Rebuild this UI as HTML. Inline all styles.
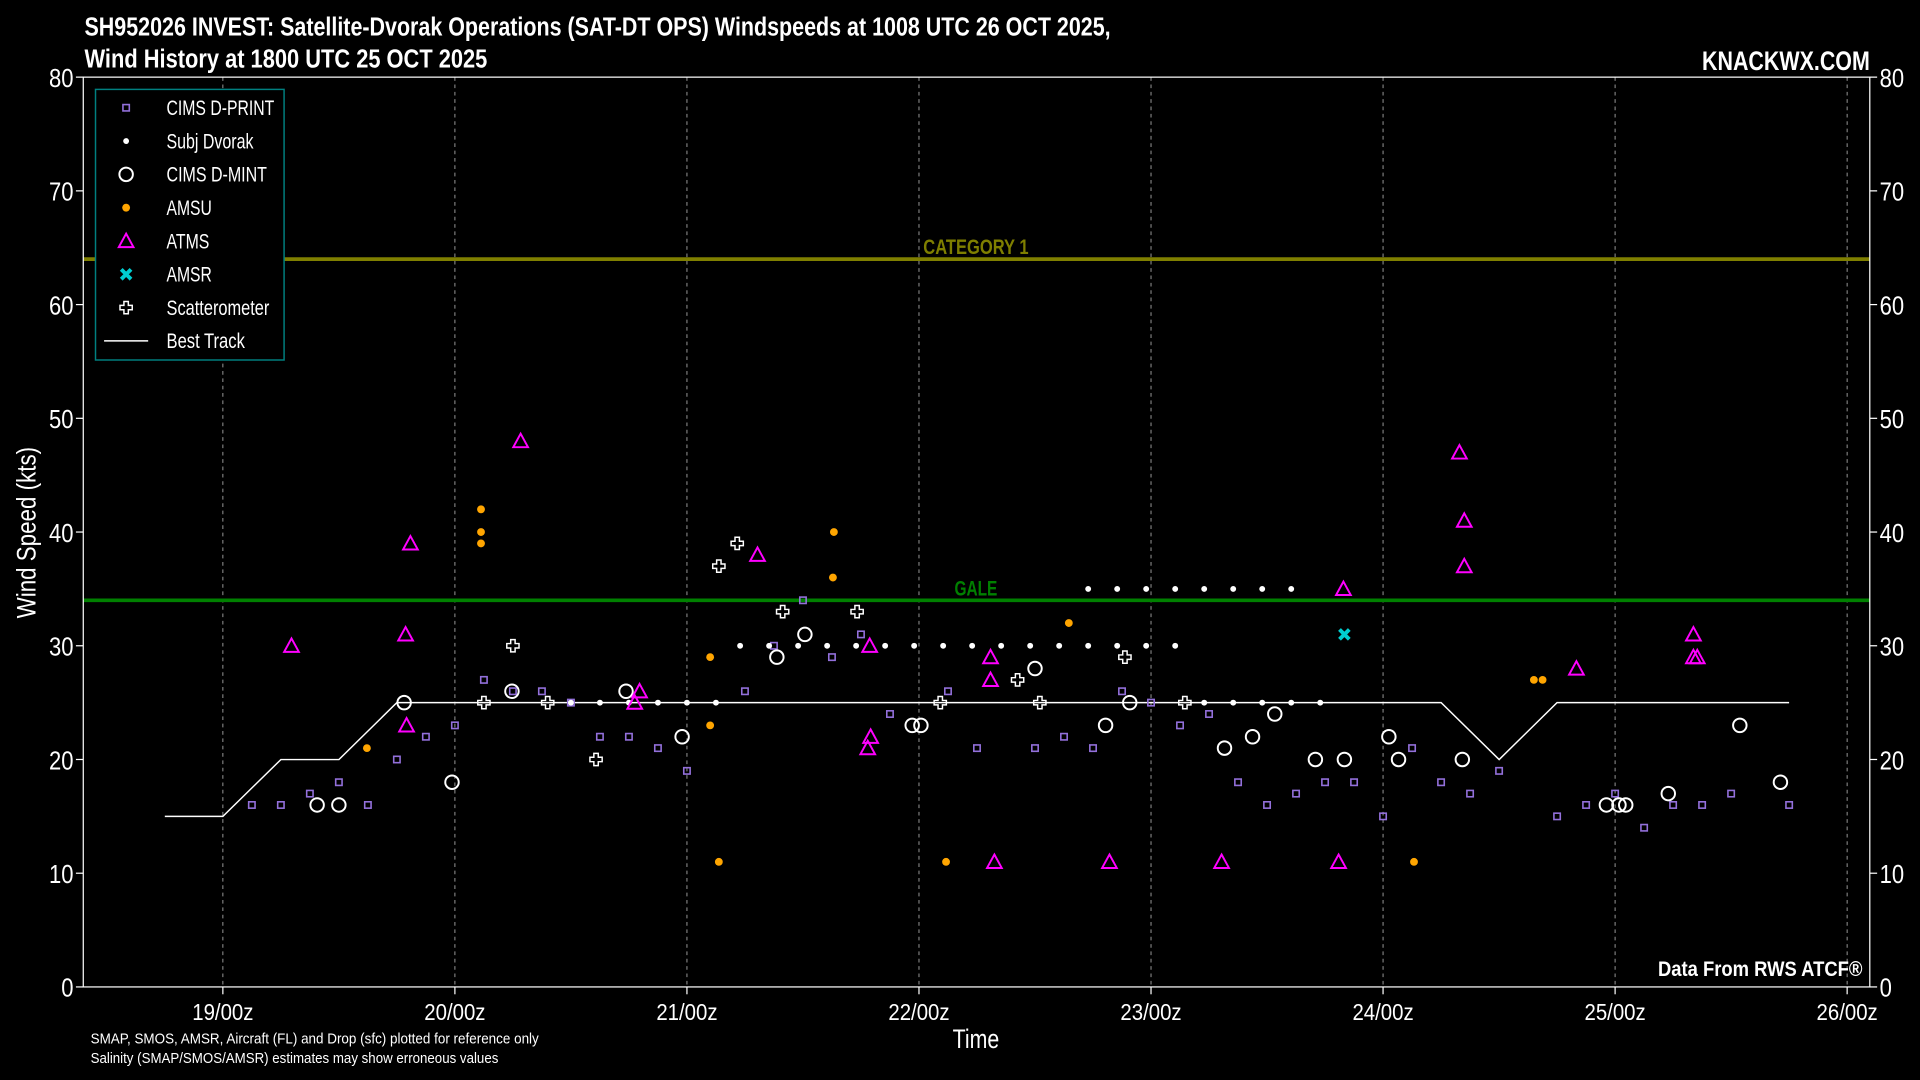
<!DOCTYPE html>
<html><head><meta charset="utf-8">
<style>
html,body{margin:0;padding:0;background:#000;overflow:hidden}
svg{display:block}
text{font-family:"Liberation Sans Narrow","Liberation Sans",sans-serif;fill:#fff}
</style></head>
<body>
<svg id="chart" width="1920" height="1080" viewBox="0 0 1568 882" xmlns="http://www.w3.org/2000/svg">
<rect x="0" y="0" width="1568" height="882" fill="#000"/>
<text x="69" y="29" font-size="21" font-weight="bold" textLength="838" lengthAdjust="spacingAndGlyphs">SH952026 INVEST: Satellite-Dvorak Operations (SAT-DT OPS) Windspeeds at 1008 UTC 26 OCT 2025,</text>
<text x="69" y="55" font-size="21" font-weight="bold" textLength="329" lengthAdjust="spacingAndGlyphs">Wind History at 1800 UTC 25 OCT 2025</text>
<text x="1390" y="57" font-size="22" font-weight="bold" textLength="137" lengthAdjust="spacingAndGlyphs">KNACKWX.COM</text>
<g id="grid"></g>
<g id="refs"></g>
<g id="marks"></g>
<rect x="68" y="63" width="1459" height="743" fill="none" stroke="#fff" stroke-width="1"/>
<g id="axes"></g>
<text transform="translate(29,435) rotate(-90)" font-size="22" text-anchor="middle" textLength="140" lengthAdjust="spacingAndGlyphs">Wind Speed (kts)</text>
<text x="797" y="856" font-size="22" text-anchor="middle" textLength="38" lengthAdjust="spacingAndGlyphs">Time</text>
<text x="1354" y="797" font-size="17" font-weight="bold" textLength="167" lengthAdjust="spacingAndGlyphs">Data From RWS ATCF®</text>
<text x="74" y="852" font-size="12" textLength="366" lengthAdjust="spacingAndGlyphs">SMAP, SMOS, AMSR, Aircraft (FL) and Drop (sfc) plotted for reference only</text>
<text x="74" y="868" font-size="12" textLength="333" lengthAdjust="spacingAndGlyphs">Salinity (SMAP/SMOS/AMSR) estimates may show erroneous values</text>
<g id="legend"></g>
</svg>
<script>
// hours since 19/00z, wind speed (kts)
const bestTrackH = [-6, 0, 6, 12, 18, 126, 132, 138, 162];
const bestTrackV = [15, 15, 20, 20, 25, 25, 20, 25, 25];
const dprintH = [3,6,9,12,15,18,21,24,27,30,33,36,39,42,45,48,54,57,60,63,66,69,75,78,84,87,90,93,96,99,102,105,108,111,114,117,120,123,126,129,132,138,141,144,147,150,153,156,162];
const dprintV = [16,16,17,18,16,20,22,23,27,26,26,25,22,22,21,19,26,30,34,29,31,24,26,21,21,22,21,26,25,23,24,18,16,17,18,18,15,21,18,17,19,15,16,17,14,16,16,17,16];
const subjH = [36,39,42,45,48,51,53.5,56.5,59.5,62.5,65.5,68.5,71.5,74.5,77.5,80.5,83.5,86.5,89.5,92.5,95.5,98.5,89.5,92.5,95.5,98.5,101.5,104.5,107.5,110.5,101.5,104.5,107.5,110.5,113.5];
const subjV = [25,25,25,25,25,25,30,30,30,30,30,30,30,30,30,30,30,30,30,30,30,30,35,35,35,35,35,35,35,35,25,25,25,25,25];
const dmintH = [9.75,12,18.75,23.7,29.9,41.7,47.5,57.3,60.2,71.3,72.2,84,91.3,93.8,103.6,106.5,108.8,113,116,120.6,121.6,128.2,143.1,144.4,145.1,149.5,156.9,161.1];
const dmintV = [16,16,25,18,26,26,22,29,31,23,23,28,23,25,21,22,24,20,20,22,20,20,16,16,16,17,23,18];
const amsuH = [14.9,26.7,26.7,26.7,50.4,50.4,51.3,63.2,63.1,74.8,87.5,123.2,135.6,136.5];
const amsuV = [21,42,40,39,29,23,11,40,36,11,32,11,27,27];
const atmsH = [7.1,19.4,18.9,19,30.8,43.1,42.6,55.3,66.9,67,66.7,79.4,79.4,79.8,91.7,103.3,115.9,115.4,127.9,128.4,128.4,140,152.1,152.1,152.5];
const atmsV = [30,39,31,23,48,26,25,38,30,22,21,29,27,11,11,11,35,11,47,41,37,28,31,29,29];
const amsrH = [116];
const amsrV = [31];
const scatH = [27,30,33.6,38.6,51.3,53.2,57.9,65.6,74.2,82.2,84.5,93.3,99.5];
const scatV = [25,30,25,20,37,39,33,33,25,27,25,29,25];
const yTicks = [0,10,20,30,40,50,60,70,80];
const xTickH = [0,24,48,72,96,120,144,168];
const xTickLabels = ["19/00z","20/00z","21/00z","22/00z","23/00z","24/00z","25/00z","26/00z"];
const refValues = [64, 34];
const refLabels = ["CATEGORY 1", "GALE"];

const NS = "http://www.w3.org/2000/svg";
const X0 = 182, PX_PER_H = 189.5/24;
const Y0 = 806, PX_PER_KT = 743/80;
function xs(h){ return X0 + h*PX_PER_H; }
function ys(v){ return Y0 - v*PX_PER_KT; }
function mk(tag, attrs, parent){
  const e = document.createElementNS(NS, tag);
  for (const k in attrs) e.setAttribute(k, attrs[k]);
  parent.appendChild(e);
  return e;
}
const grid = document.getElementById('grid');
const axes = document.getElementById('axes');
const refs = document.getElementById('refs');
const marks = document.getElementById('marks');
const legend = document.getElementById('legend');

xTickH.forEach((h,i)=>{
  const l = mk('line',{x1:xs(h),x2:xs(h),y1:63,y2:806,stroke:'#999','stroke-width':0.8,'stroke-dasharray':'3,3'},grid);
  
  
  const t = mk('line',{x1:xs(h),x2:xs(h),y1:806,y2:812,stroke:'#fff'},axes);
  
  
  const tx = mk('text',{x:xs(h),y:833,'font-size':19,'text-anchor':'middle',textLength:50,lengthAdjust:'spacingAndGlyphs'},axes);
  tx.textContent = xTickLabels[i];
  
  
});
yTicks.forEach(v=>{
  const a = mk('line',{x1:62,x2:68,y1:ys(v),y2:ys(v),stroke:'#fff'},axes);
  
  
  const b = mk('line',{x1:1527,x2:1533,y1:ys(v),y2:ys(v),stroke:'#fff'},axes);
  
  
  const w = String(v).length*10;
  const t1 = mk('text',{x:60,y:ys(v)+8,'font-size':21,'text-anchor':'end',textLength:w,lengthAdjust:'spacingAndGlyphs'},axes);
  t1.textContent = v;
  
  
  const t2 = mk('text',{x:1535,y:ys(v)+8,'font-size':21,textLength:w,lengthAdjust:'spacingAndGlyphs'},axes);
  t2.textContent = v;
  
  
});
const refColors = ['#7f7f00','#008000'];
const refLabelW = [86, 35];
refValues.forEach((v,i)=>{
  const l = mk('line',{x1:68,x2:1527,y1:ys(v),y2:ys(v),stroke:refColors[i],'stroke-width':3},refs);
  
  
  const t = mk('text',{x:797,y:ys(v)-4,'font-size':17,'font-weight':'bold','text-anchor':'middle',style:'fill:'+refColors[i],textLength:refLabelW[i],lengthAdjust:'spacingAndGlyphs'},refs);
  t.textContent = refLabels[i];
  
  
});

let d = bestTrackH.map((h,i)=>(i?'L':'M')+xs(h).toFixed(1)+','+ys(bestTrackV[i]).toFixed(1)).join(' ');
const bt = mk('path',{d:d,fill:'none',stroke:'#fff','stroke-width':1.2},marks);



function square(g,x,y){ return mk('rect',{x:x-2.6,y:y-2.6,width:5.2,height:5.2,fill:'none',stroke:'#9370db','stroke-width':1.3},g); }
function dot(g,x,y,r,c){ return mk('circle',{cx:x,cy:y,r:r,fill:c},g); }
function ring(g,x,y){ return mk('circle',{cx:x,cy:y,r:5.5,fill:'none',stroke:'#fff','stroke-width':1.6},g); }
function tri(g,x,y){ return mk('path',{d:`M${x},${y-6} L${x+6},${y+5} L${x-6},${y+5} Z`,fill:'none',stroke:'#ff00ff','stroke-width':1.6},g); }
function xmark(g,x,y){ return mk('path',{d:`M${x-4},${y-4} L${x+4},${y+4} M${x+4},${y-4} L${x-4},${y+4}`,stroke:'#00ced1','stroke-width':3.2},g); }
function plus(g,x,y){ return mk('path',{d:`M${x-1.8},${y-5} h3.6 v3.2 h3.2 v3.6 h-3.2 v3.2 h-3.6 v-3.2 h-3.2 v-3.6 h3.2 Z`,fill:'none',stroke:'#fff','stroke-width':1.2},g); }

let e;
dprintH.forEach((h,i)=>{ e = square(marks,xs(h),ys(dprintV[i]));
  
   });
subjH.forEach((h,i)=>{ e = dot(marks,xs(h),ys(subjV[i]),2.4,'#fff');
  
   });
dmintH.forEach((h,i)=>{ e = ring(marks,xs(h),ys(dmintV[i]));
  
   });
amsuH.forEach((h,i)=>{ e = dot(marks,xs(h),ys(amsuV[i]),3.2,'#ffa500');
  
   });
atmsH.forEach((h,i)=>{ e = tri(marks,xs(h),ys(atmsV[i]));
  
   });
amsrH.forEach((h,i)=>{ e = xmark(marks,xs(h),ys(amsrV[i]));
  
   });
scatH.forEach((h,i)=>{ e = plus(marks,xs(h),ys(scatV[i]));
  
   });

const lb = mk('rect',{x:78,y:73,width:154,height:221,fill:'#000',stroke:'#008080','stroke-width':1.2},legend);


const legLabels = ['CIMS D-PRINT','Subj Dvorak','CIMS D-MINT','AMSU','ATMS','AMSR','Scatterometer','Best Track'];
const legW = [88,71,82,37,35,37,84,64];
legLabels.forEach((lab,i)=>{
  const y = 88 + i*27.2, x = 103;
  const g = mk('g',{},legend);
  
  
  if(i===0) square(g,x,y);
  if(i===1) dot(g,x,y,2.4,'#fff');
  if(i===2) ring(g,x,y);
  if(i===3) dot(g,x,y,3.2,'#ffa500');
  if(i===4) tri(g,x,y);
  if(i===5) xmark(g,x,y);
  if(i===6) plus(g,x,y);
  if(i===7) mk('line',{x1:85,x2:121,y1:y,y2:y,stroke:'#fff','stroke-width':1.2},g);
  const t = mk('text',{x:136,y:y+6,'font-size':17,textLength:legW[i],lengthAdjust:'spacingAndGlyphs'},g);
  t.textContent = lab;
});
</script>
</body></html>
